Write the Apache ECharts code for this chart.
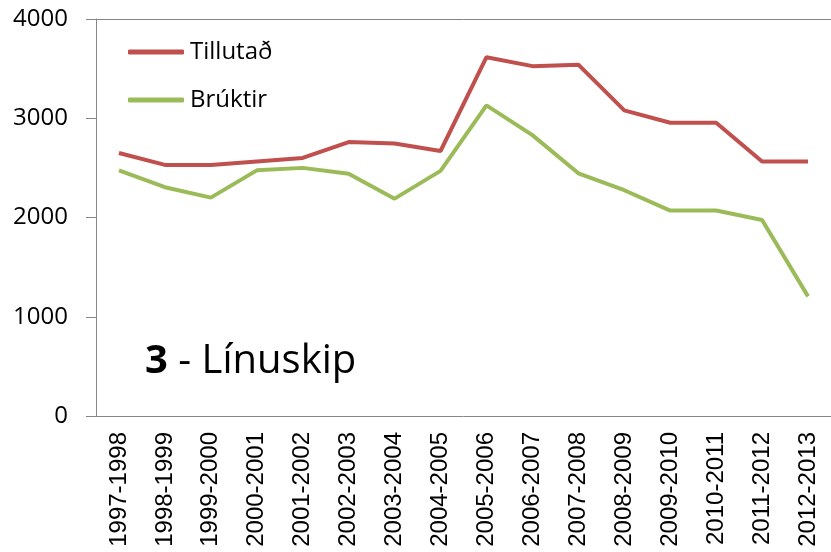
<!DOCTYPE html>
<html>
<head>
<meta charset="utf-8">
<script src="https://cdn.jsdelivr.net/npm/echarts@6/dist/echarts.min.js"></script>
<style>
  html, body { margin: 0; padding: 0; background: #fff; }
  #chart { width: 831px; height: 552px; }
</style>
</head>
<body>
<div id="chart"></div>
<script>
// seasons on the x axis
var seasons = ["1997-1998", "1998-1999", "1999-2000", "2000-2001", "2001-2002", "2002-2003",
  "2003-2004", "2004-2005", "2005-2006", "2006-2007", "2007-2008", "2008-2009",
  "2009-2010", "2010-2011", "2011-2012", "2012-2013"];
var tillutad = [2650, 2530, 2530, 2565, 2600, 2760, 2745, 2670, 3615, 3525, 3540, 3080, 2955, 2955, 2565, 2565];
var bruktir = [2475, 2305, 2200, 2475, 2500, 2440, 2190, 2470, 3130, 2830, 2445, 2275, 2070, 2070, 1975, 1205];
var seriesNames = ["Tillutað", "Brúktir"];

var chart = echarts.init(document.getElementById("chart"));
chart.setOption({
  animation: false,
  title: {
    text: "{b|3} - Línuskip",
    left: 140,
    top: 337,
    textStyle: {
      fontFamily: "Open Sans",
      fontSize: 40,
      fontWeight: "normal",
      color: "#000",
      rich: {
        b: { fontFamily: "Open Sans", fontSize: 40, fontWeight: "bold", color: "#000" }
      }
    }
  },
  legend: {
    data: seriesNames,
    orient: "vertical",
    left: 123,
    top: 34,
    icon: "roundRect",
    itemWidth: 56,
    itemHeight: 5,
    itemGap: 22,
    textStyle: {
      fontFamily: "Open Sans",
      fontSize: 24,
      lineHeight: 26,
      color: "#000",
      padding: [0, 0, 0, 1]
    }
  },
  grid: { left: 96, right: -6, top: 19, bottom: 136 },
  xAxis: {
    type: "category",
    data: seasons,
    axisLine: { lineStyle: { color: "#868686", width: 1 } },
    axisTick: { length: 8, lineStyle: { color: "#868686" } },
    axisLabel: {
      rotate: 90,
      margin: 16,
      fontFamily: "Liberation Sans",
      fontSize: 24,
      color: "#000"
    }
  },
  yAxis: {
    type: "value",
    min: 0,
    max: 4000,
    interval: 1000,
    axisLine: { show: true, lineStyle: { color: "#868686", width: 1 } },
    axisTick: { show: true, length: 10, lineStyle: { color: "#868686" } },
    axisLabel: {
      margin: 28,
      fontFamily: "Open Sans",
      fontSize: 24,
      color: "#000",
      formatter: function (v) { return String(v); }
    },
    splitLine: {
      show: true,
      lineStyle: { color: ["transparent", "transparent", "transparent", "transparent", "#868686"], width: 1 }
    }
  },
  series: [
    {
      name: seriesNames[0],
      type: "line",
      data: tillutad,
      symbol: "none",
      lineStyle: { color: "#C0504D", width: 4 },
      itemStyle: { color: "#C0504D" }
    },
    {
      name: seriesNames[1],
      type: "line",
      data: bruktir,
      symbol: "none",
      lineStyle: { color: "#9BBB59", width: 4 },
      itemStyle: { color: "#9BBB59" }
    }
  ]
});
</script>
</body>
</html>
